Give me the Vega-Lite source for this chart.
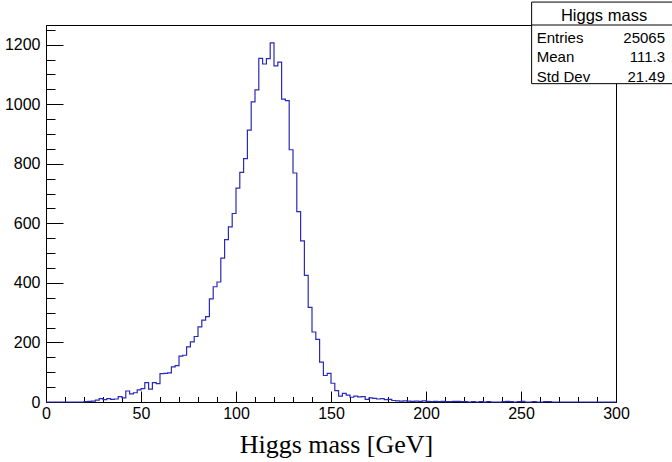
{
  "$schema": "https://vega.github.io/schema/vega-lite/v6.json",
  "width": 570,
  "height": 377,
  "autosize": {"type": "none"},
  "padding": {"left": 46, "top": 25, "right": 56, "bottom": 60},
  "background": "white",
  "config": {
    "view": {"stroke": "black", "strokeWidth": 1},
    "axis": {"grid": false, "labelFont": "Liberation Sans", "labelFontSize": 16, "labelColor": "black", "domainColor": "black", "tickColor": "black", "titleColor": "black", "labelFlush": false}
  },
  "datasets": {
    "h": [
      {"x":0,"n":0},{"x":2,"n":0},{"x":4,"n":0},{"x":6,"n":0},{"x":8,"n":0},{"x":10,"n":0},{"x":12,"n":0},{"x":14,"n":0},{"x":16,"n":0},{"x":18,"n":0},
      {"x":20,"n":1},{"x":22,"n":2},{"x":24,"n":3},{"x":26,"n":6},{"x":28,"n":11},{"x":30,"n":8},{"x":32,"n":11},{"x":34,"n":9},{"x":36,"n":10},{"x":38,"n":18},
      {"x":40,"n":14},{"x":42,"n":37},{"x":44,"n":27},{"x":46,"n":31},{"x":48,"n":41},{"x":50,"n":45},{"x":52,"n":65},{"x":54,"n":43},{"x":56,"n":65},{"x":58,"n":62},
      {"x":60,"n":95},{"x":62,"n":96},{"x":64,"n":98},{"x":66,"n":118},{"x":68,"n":122},{"x":70,"n":154},{"x":72,"n":157},{"x":74,"n":185},{"x":76,"n":202},{"x":78,"n":220},
      {"x":80,"n":252},{"x":82,"n":275},{"x":84,"n":287},{"x":86,"n":346},{"x":88,"n":387},{"x":90,"n":403},{"x":92,"n":483},{"x":94,"n":545},{"x":96,"n":588},{"x":98,"n":633},
      {"x":100,"n":718},{"x":102,"n":771},{"x":104,"n":817},{"x":106,"n":913},{"x":108,"n":1008},{"x":110,"n":1048},{"x":112,"n":1154},{"x":114,"n":1135},{"x":116,"n":1153},{"x":118,"n":1206},
      {"x":120,"n":1129},{"x":122,"n":1141},{"x":124,"n":1017},{"x":126,"n":1012},{"x":128,"n":847},{"x":130,"n":769},{"x":132,"n":639},{"x":134,"n":541},{"x":136,"n":425},{"x":138,"n":318},
      {"x":140,"n":235},{"x":142,"n":210},{"x":144,"n":134},{"x":146,"n":89},{"x":148,"n":96},{"x":150,"n":63},{"x":152,"n":38},{"x":154,"n":20},{"x":156,"n":29},{"x":158,"n":23},
      {"x":160,"n":16},{"x":162,"n":20},{"x":164,"n":17},{"x":166,"n":18},{"x":168,"n":9},{"x":170,"n":14},{"x":172,"n":12},{"x":174,"n":10},{"x":176,"n":11},{"x":178,"n":8},
      {"x":180,"n":9},{"x":182,"n":5},{"x":184,"n":4},{"x":186,"n":3},{"x":188,"n":4},{"x":190,"n":3},{"x":192,"n":2},{"x":194,"n":3},{"x":196,"n":2},{"x":198,"n":4},
      {"x":200,"n":2},{"x":202,"n":1},{"x":204,"n":2},{"x":206,"n":1},{"x":208,"n":2},{"x":210,"n":1},{"x":212,"n":1},{"x":214,"n":2},{"x":216,"n":2},{"x":218,"n":1},
      {"x":220,"n":1},{"x":222,"n":0},{"x":224,"n":1},{"x":226,"n":0},{"x":228,"n":1},{"x":230,"n":0},{"x":232,"n":1},{"x":234,"n":0},{"x":236,"n":0},{"x":238,"n":0},
      {"x":240,"n":1},{"x":242,"n":2},{"x":244,"n":1},{"x":246,"n":0},{"x":248,"n":1},{"x":250,"n":2},{"x":252,"n":0},{"x":254,"n":0},{"x":256,"n":1},{"x":258,"n":0},
      {"x":260,"n":0},{"x":262,"n":1},{"x":264,"n":1},{"x":266,"n":0},{"x":268,"n":0},{"x":270,"n":0},{"x":272,"n":0},{"x":274,"n":0},{"x":276,"n":0},{"x":278,"n":0},
      {"x":280,"n":0},{"x":282,"n":0},{"x":284,"n":0},{"x":286,"n":0},{"x":288,"n":0},{"x":290,"n":0},{"x":292,"n":0},{"x":294,"n":0},{"x":296,"n":0},{"x":298,"n":0},
      {"x":300,"n":0}
    ]
  },
  "layer": [
    {
      "data": {"name": "h"},
      "mark": {"type": "line", "interpolate": "step-after", "color": "#2a2ab8", "strokeWidth": 1.2},
      "encoding": {
        "x": {"field": "x", "type": "quantitative", "scale": {"domain": [0, 300], "nice": false, "zero": false},
          "axis": {"orient": "bottom", "values": [0, 50, 100, 150, 200, 250, 300], "format": "d", "tickSize": -11, "labelPadding": 14,
            "title": "Higgs mass [GeV]", "titleFont": "Liberation Serif", "titleFontSize": 26, "titleFontWeight": "normal",
            "titleX": 290, "titleY": 50, "titleBaseline": "alphabetic", "titleAlign": "center", "titleAnchor": null}},
        "y": {"field": "n", "type": "quantitative", "scale": {"domain": [0, 1266], "nice": false, "zero": true},
          "axis": {"orient": "left", "values": [0, 200, 400, 600, 800, 1000, 1200], "format": "d", "tickSize": -17, "labelPadding": 23, "title": null}}
      }
    },
    {
      "data": {"name": "h"},
      "mark": {"type": "line", "strokeOpacity": 0},
      "encoding": {
        "x": {"field": "x", "type": "quantitative", "scale": {"domain": [0, 300], "nice": false, "zero": false},
          "axis": {"orient": "bottom", "values": [0,10,20,30,40,50,60,70,80,90,100,110,120,130,140,150,160,170,180,190,200,210,220,230,240,250,260,270,280,290,300],
            "tickSize": -5.5, "labels": false, "domain": false, "title": null}},
        "y": {"field": "n", "type": "quantitative", "scale": {"domain": [0, 1266], "nice": false, "zero": true},
          "axis": {"orient": "left", "values": [0,50,100,150,200,250,300,350,400,450,500,550,600,650,700,750,800,850,900,950,1000,1050,1100,1150,1200,1250],
            "tickSize": -9, "labels": false, "domain": false, "title": null}}
      }
    },
    {
      "data": {"values": [{}]},
      "mark": {"type": "rect", "fill": "white", "stroke": "black", "strokeWidth": 1},
      "encoding": {
        "x": {"datum": 255.6, "type": "quantitative", "axis": null, "scale": {"domain": [0, 300], "nice": false, "zero": false}},
        "x2": {"datum": 340},
        "y": {"datum": 1069, "type": "quantitative", "axis": null, "scale": {"domain": [0, 1266], "nice": false, "zero": true}},
        "y2": {"datum": 1343}
      }
    },
    {
      "data": {"values": [{}]},
      "mark": {"type": "rule", "stroke": "black", "strokeWidth": 1},
      "encoding": {
        "x": {"datum": 255.6, "type": "quantitative", "axis": null, "scale": {"domain": [0, 300], "nice": false, "zero": false}},
        "x2": {"datum": 340},
        "y": {"datum": 1266, "type": "quantitative", "axis": null, "scale": {"domain": [0, 1266], "nice": false, "zero": true}}
      }
    },
    {
      "data": {"values": [{"label": "Higgs mass"}]},
      "mark": {"type": "text", "font": "Liberation Sans", "fontSize": 16.5, "color": "black", "align": "center", "baseline": "alphabetic"},
      "encoding": {
        "text": {"field": "label"},
        "x": {"datum": 293.7, "type": "quantitative", "axis": null, "scale": {"domain": [0, 300], "nice": false, "zero": false}},
        "y": {"datum": 1279.4, "type": "quantitative", "axis": null, "scale": {"domain": [0, 1266], "nice": false, "zero": true}}
      }
    },
    {
      "data": {"values": [{"names": "Entries\nMean\nStd Dev"}]},
      "mark": {"type": "text", "font": "Liberation Sans", "fontSize": 15, "color": "black", "align": "left", "baseline": "alphabetic", "lineBreak": "\n", "lineHeight": 19.5},
      "encoding": {
        "text": {"field": "names"},
        "x": {"datum": 258.3, "type": "quantitative", "axis": null, "scale": {"domain": [0, 300], "nice": false, "zero": false}},
        "y": {"datum": 1207.2, "type": "quantitative", "axis": null, "scale": {"domain": [0, 1266], "nice": false, "zero": true}}
      }
    },
    {
      "data": {"values": [{"vals": "25065\n111.3\n21.49"}]},
      "mark": {"type": "text", "font": "Liberation Sans", "fontSize": 15, "color": "black", "align": "right", "baseline": "alphabetic", "lineBreak": "\n", "lineHeight": 19.5},
      "encoding": {
        "text": {"field": "vals"},
        "x": {"datum": 325.8, "type": "quantitative", "axis": null, "scale": {"domain": [0, 300], "nice": false, "zero": false}},
        "y": {"datum": 1207.2, "type": "quantitative", "axis": null, "scale": {"domain": [0, 1266], "nice": false, "zero": true}}
      }
    }
  ],
  "resolve": {"axis": {"x": "independent", "y": "independent"}}
}
